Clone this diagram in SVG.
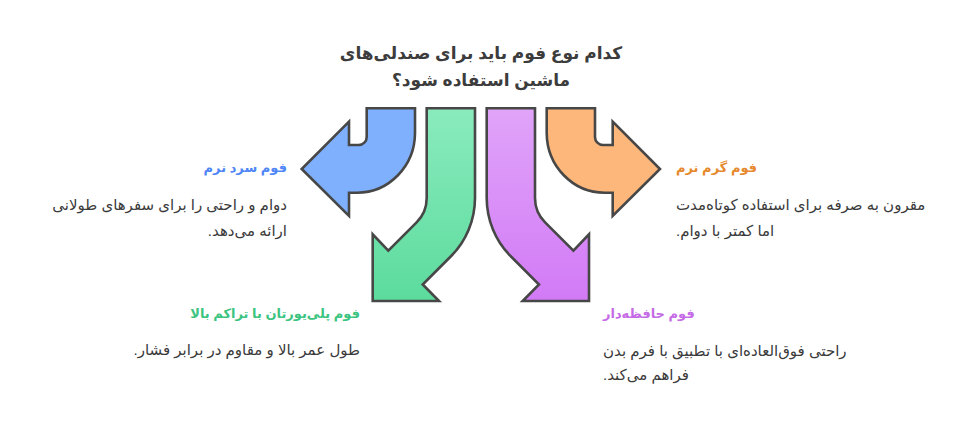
<svg xmlns="http://www.w3.org/2000/svg" width="962" height="434" viewBox="0 0 962 434">
<defs>
<linearGradient id="gGreen" x1="0" y1="0" x2="0" y2="1"><stop offset="0" stop-color="#8AEBBD"/><stop offset="1" stop-color="#5CDB9D"/></linearGradient>
<linearGradient id="gPurple" x1="0" y1="0" x2="0" y2="1"><stop offset="0" stop-color="#E0A4F9"/><stop offset="1" stop-color="#D27AF6"/></linearGradient>
<style>
.arrow{stroke:#474747;stroke-width:2.6;stroke-linejoin:miter}
text{font-family:"Liberation Sans","DejaVu Sans",sans-serif}
.title{font-size:17px;font-weight:bold;fill:#3c3c3c}
.head{font-size:13px;font-weight:bold}
.body{font-size:15px;fill:#3a3a3a}
</style>
</defs>
<g id="title">
<text class="title" x="481" y="59" text-anchor="middle" direction="rtl">کدام نوع فوم باید برای صندلی‌های</text>
<text class="title" x="481" y="86" text-anchor="middle" direction="rtl">ماشین استفاده شود؟</text>
</g>
<g id="connectors">
<path id="arrow-blue" class="arrow" fill="#7FB0FE" d="M366.7,108.3 H415 V133 A58,60 0 0 1 357,192.7 H349 V216 L301.7,169 L349,121.7 V145 H358.7 A8,8 0 0 0 366.7,137 Z"/>
<path id="arrow-green" class="arrow" fill="url(#gGreen)" d="M426.7,108.3 H475 V198 A82.8,82.8 0 0 1 450.7,256.5 L422.7,284.5 L439,301 H372.7 V234.3 L388.3,250.7 L416.6,222.4 A34.5,34.5 0 0 0 426.7,198 Z"/>
<g transform="translate(961.7 0) scale(-1 1)">
<path id="arrow-purple" class="arrow" fill="url(#gPurple)" d="M426.7,108.3 H475 V198 A82.8,82.8 0 0 1 450.7,256.5 L422.7,284.5 L439,301 H372.7 V234.3 L388.3,250.7 L416.6,222.4 A34.5,34.5 0 0 0 426.7,198 Z"/>
<path id="arrow-orange" class="arrow" fill="#FDB77A" d="M366.7,108.3 H415 V133 A58,60 0 0 1 357,192.7 H349 V216 L301.7,169 L349,121.7 V145 H358.7 A8,8 0 0 0 366.7,137 Z"/>
</g>
</g>
<g id="node-soft-cold">
<text class="head" x="287" y="172" fill="#4F86F7" direction="rtl" text-anchor="start">فوم سرد نرم</text>
<text class="body" x="287" y="210" direction="rtl" text-anchor="start">دوام و راحتی را برای سفرهای طولانی</text>
<text class="body" x="287" y="236" direction="rtl" text-anchor="start">ارائه می‌دهد.</text>
</g>
<g id="node-soft-warm">
<text class="head" x="676" y="172" fill="#E6892E" direction="rtl" text-anchor="end">فوم گرم نرم</text>
<text class="body" x="676" y="210" direction="rtl" text-anchor="end">مقرون به صرفه برای استفاده کوتاه‌مدت</text>
<text class="body" x="676" y="236" direction="rtl" text-anchor="end">اما کمتر با دوام.</text>
</g>
<g id="node-hd-pu">
<text class="head" x="360" y="318" fill="#3CC481" direction="rtl" text-anchor="start">فوم پلی‌یورتان با تراکم بالا</text>
<text class="body" x="360" y="355" direction="rtl" text-anchor="start">طول عمر بالا و مقاوم در برابر فشار.</text>
</g>
<g id="node-memory">
<text class="head" x="603" y="318" fill="#C56BE6" direction="rtl" text-anchor="end">فوم حافظه‌دار</text>
<text class="body" x="603" y="356" direction="rtl" text-anchor="end">راحتی فوق‌العاده‌ای با تطبیق با فرم بدن</text>
<text class="body" x="603" y="380" direction="rtl" text-anchor="end">فراهم می‌کند.</text>
</g>
</svg>
